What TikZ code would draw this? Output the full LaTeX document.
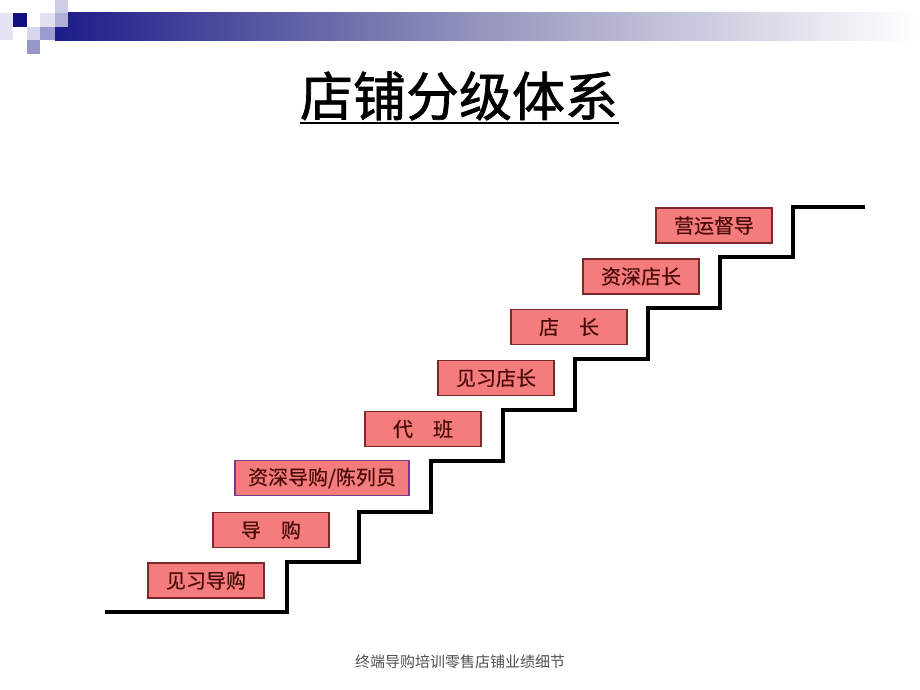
\documentclass[tikz,border=0pt]{standalone}
\usepackage{fontspec}
\newfontfamily\cjk{Noto Sans CJK SC}
\newfontfamily\cjkb[FakeBold=1.3]{Noto Sans CJK SC}
\newfontfamily\cjkm[FakeBold=0.4]{Noto Sans CJK SC}
\definecolor{boxfill}{HTML}{F47C7C}
\definecolor{boxedge}{HTML}{7A2A2A}
\definecolor{boxedgep}{HTML}{7A3A8A}
\definecolor{boxtext}{HTML}{4A0A0A}
\definecolor{barleft}{HTML}{1C1C88}
\tikzset{
  stepbox/.style={draw=boxedge, line width=1.2pt, fill=boxfill, minimum width=116pt, minimum height=35pt, inner sep=0pt, text=boxtext, font=\cjkm\fontsize{20}{20}\selectfont},
  stair/.style={line width=3.8pt, line join=miter, black}
}
\begin{document}
\begin{tikzpicture}[x=1pt,y=-1pt]
\useasboundingbox[fill=white] (0,0) rectangle (920,690);
% header bar and squares
\shade[left color=barleft, right color=white, middle color={rgb,255:red,150;green,150;blue,190}] (55,13) rectangle (915,41);
\fill[color={rgb,255:red,228;green,228;blue,242}] (0,13) rectangle (13,40);
\fill[color={rgb,255:red,16;green,16;blue,126}] (13,13) rectangle (27,27);
\fill[color={rgb,255:red,225;green,225;blue,240}] (40,13) rectangle (55,27);
\fill[color={rgb,255:red,205;green,205;blue,230}] (55,0) rectangle (68,13);
\fill[color={rgb,255:red,175;green,175;blue,215}] (55,13) rectangle (68,27);
\fill[color={rgb,255:red,215;green,215;blue,235}] (27,27) rectangle (40,40);
\fill[color={rgb,255:red,155;green,155;blue,205}] (40,27) rectangle (55,40);
\fill[color={rgb,255:red,150;green,150;blue,200}] (27,40) rectangle (40,54);
% title
\node[font=\cjkb\fontsize{53}{53}\selectfont, inner sep=0pt, anchor=base] (title) at (459,116) {店铺分级体系};
\draw[line width=2.2pt] (300,123) -- (619,123);
% staircase
\draw[stair] (105,612) -- (287,612) -- (287,562) -- (359,562) -- (359,512) -- (431,512) -- (431,461) -- (503,461) -- (503,410) -- (575,410) -- (575,359) -- (648,359) -- (648,308) -- (720,308) -- (720,257) -- (793,257) -- (793,207) -- (865,207);
% boxes
\node[stepbox] (b1) at (206,580.5) {见习导购};
\node[stepbox] (b2) at (271,530) {导\hspace{20pt}购};
\node[stepbox, draw=boxedgep, minimum width=174pt] (b3) at (322,478) {资深导购/陈列员};
\node[stepbox] (b4) at (423,429) {代\hspace{20pt}班};
\node[stepbox] (b5) at (496,378) {见习店长};
\node[stepbox] (b6) at (569,327) {店\hspace{20pt}长};
\node[stepbox] (b7) at (641,276.5) {资深店长};
\node[stepbox] (b8) at (714,225.5) {营运督导};
% footer
\node[font=\cjk\fontsize{15}{15}\selectfont, text={rgb,255:red,80;green,80;blue,80}] (foot) at (460,662) {终端导购培训零售店铺业绩细节};
\end{tikzpicture}
\end{document}
